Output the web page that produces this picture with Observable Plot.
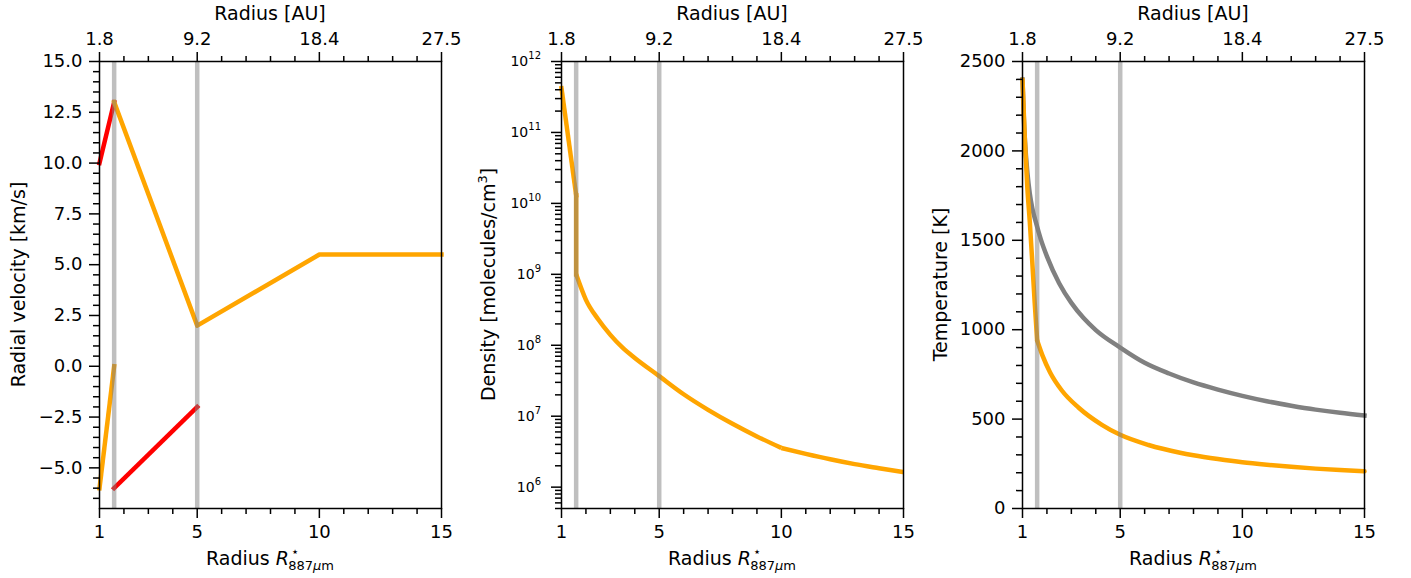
<!DOCTYPE html>
<html>
<head>
<meta charset="utf-8">
<script src="https://cdn.jsdelivr.net/npm/d3@7"></script>
<script src="https://cdn.jsdelivr.net/npm/@observablehq/plot@0.6"></script>
<style>
  html, body { margin: 0; padding: 0; background: #ffffff; }
  #chart { position: relative; width: 1411px; height: 578px; background: #ffffff; font-family: "DejaVu Sans", sans-serif; }
  #chart svg { position: absolute; top: 0; }
</style>
</head>
<body>
<div id="chart"></div>
<script>
// ---------- shared axis values ----------
const xMajor = [1, 5, 10, 15];
const xMinor = [2, 3, 4, 6, 7, 8, 9, 11, 12, 13, 14];
const auLabels = ["1.8", "9.2", "18.4", "27.5"];
const boundaries = [1.6, 5];

// ---------- panel 1: radial velocity ----------
const velTicks = [-5, -2.5, 0, 2.5, 5, 7.5, 10, 12.5, 15];
const velRedUpperR = [1, 1.6];
const velRedUpperV = [10, 13];
const velOrangeUpperR = [1.6, 5, 10, 15];
const velOrangeUpperV = [13, 2, 5.5, 5.5];
const velOrangeLowerR = [1, 1.6];
const velOrangeLowerV = [-6, 0];
const velRedLowerR = [1.6, 5];
const velRedLowerV = [-6, -2];

// ---------- panel 2: density (segments: inner, jump, middle, outer) ----------
const densTicks = [1e6, 1e7, 1e8, 1e9, 1e10, 1e11, 1e12];
const densSeg = ["a", "a", "b", "b", "c", "c", "c", "c", "c", "c", "c", "c", "c", "c", "c", "c", "c", "d", "d", "d", "d", "d", "d"];
const densR = [1, 1.6, 1.6, 1.6, 1.6, 2, 2.5, 3, 3.5, 4, 5, 6, 7, 8, 9, 10, 10, 10, 11, 12, 13, 14, 15];
const densN = [4.2e11, 1.3e10, 1.3e10, 1.0e9, 1.0e9, 4.37e8, 2.32e8, 1.40e8, 9.23e7, 6.61e7, 3.67e7, 2.04e7, 1.23e7, 7.82e6, 5.19e6, 3.57e6, 3.57e6, 3.57e6, 2.95e6, 2.47e6, 2.11e6, 1.85e6, 1.63e6];

// ---------- panel 3: temperature ----------
const tempTicks = [0, 500, 1000, 1500, 2000, 2500];
const tempGreyR = [1, 1.05, 1.1, 1.2, 1.3, 1.4, 1.55, 1.75, 2, 2.5, 3, 3.5, 4, 5, 6, 7, 8, 9, 10, 11, 12, 13, 14, 15];
const tempGreyT = [2400, 2200, 2060, 1880, 1760, 1680, 1600, 1505, 1410, 1260, 1150, 1065, 998, 900, 815, 755, 705, 665, 630, 600, 575, 553, 535, 520];
const tempOrangeSeg = ["a", "a", "a", "a", "a", "a", "a", "b", "b", "b", "b", "b", "b", "b", "b", "b", "b", "b", "b", "b", "b", "b", "b", "b", "b", "b"];
const tempOrangeR = [1, 1.1, 1.2, 1.3, 1.4, 1.5, 1.6, 1.6, 1.82, 2.13, 2.61, 3.29, 4.25, 5, 6.16, 7.45, 8, 9, 10, 11, 12, 13, 14, 15];
const tempOrangeT = [2400, 2050, 1790, 1600, 1380, 1150, 940, 940, 855, 761, 660, 565, 468, 412, 355, 312, 298, 277, 259, 245, 233, 223, 215, 208];

const ORANGE = "#ffa500", RED = "#ff0000", GREY = "#808080";
const toPts = (xs, ys, zs) => xs.map((x, i) => ({x, y: ys[i], z: zs ? zs[i] : "a"}));

const FRAME_W = 342, ML = 99, MR = 30, MT = 61, MB = 70, H = 578;
const SVG_W = ML + FRAME_W + MR;
const LW = 4.5;

function panel({frameLeft, yScale, yMajor, yMinor, yFormat, yFont, dataMarks, ylabel, ylabelX, after}) {
  const svg = Plot.plot({
    width: SVG_W, height: H,
    marginLeft: ML, marginRight: MR, marginTop: MT, marginBottom: MB,
    x: {domain: [1, 15]},
    y: yScale,
    style: {background: "transparent", overflow: "visible", fontFamily: "DejaVu Sans", color: "black"},
    marks: [
      ...dataMarks,
      Plot.ruleX(boundaries, {stroke: GREY, strokeOpacity: 0.5, strokeWidth: 4.5}),
      Plot.frame({stroke: "black", strokeWidth: 1.5}),
      Plot.axisX(xMajor, {anchor: "bottom", tickSize: 10, tickPadding: 7, fontSize: 18, strokeWidth: 1.5, label: null, tickFormat: d => String(d)}),
      Plot.axisX(xMinor, {anchor: "bottom", tickSize: 6, strokeWidth: 1.5, label: null, tickFormat: () => ""}),
      Plot.axisX(xMajor, {anchor: "top", tickSize: 10, tickPadding: 7, fontSize: 18, strokeWidth: 1.5, label: null, tickFormat: d => auLabels[xMajor.indexOf(d)]}),
      Plot.axisX(xMinor, {anchor: "top", tickSize: 6, strokeWidth: 1.5, label: null, tickFormat: () => ""}),
      Plot.axisY(yMajor, {anchor: "left", tickSize: 10, tickPadding: 7, fontSize: yFont, strokeWidth: 1.5, label: null, tickFormat: yFormat}),
      Plot.axisY(yMinor, {anchor: "left", tickSize: 6, strokeWidth: 1.5, label: null, tickFormat: () => ""})
    ]
  });
  svg.style.left = (frameLeft - ML) + "px";
  const s = d3.select(svg);
  const cx = ML + FRAME_W / 2;
  s.append("text").attr("x", cx).attr("y", 20).attr("text-anchor", "middle")
    .attr("font-family", "DejaVu Sans").attr("font-size", 19).attr("fill", "black").text("Radius [AU]");
  const t = s.append("text").attr("x", cx).attr("y", 565).attr("text-anchor", "middle")
    .attr("font-family", "DejaVu Sans").attr("font-size", 19).attr("fill", "black");
  t.append("tspan").text("Radius ");
  t.append("tspan").attr("font-style", "italic").text("R");
  t.append("tspan").attr("font-size", 13).attr("dx", 2).attr("dy", -9).text("⋆");
  t.append("tspan").attr("font-size", 13).attr("dx", -11).attr("dy", 14).text("887");
  t.append("tspan").attr("font-size", 13).attr("font-style", "italic").text("μ");
  t.append("tspan").attr("font-size", 13).text("m");
  const yl = s.append("text").attr("transform", `translate(${ylabelX - (frameLeft - ML)},${MT + (H - MT - MB) / 2}) rotate(-90)`)
    .attr("text-anchor", "middle").attr("font-family", "DejaVu Sans").attr("font-size", 19).attr("fill", "black");
  ylabel(yl);
  if (after) after(svg, s);
  document.getElementById("chart").appendChild(svg);
}

// panel 1
panel({
  frameLeft: 99,
  yScale: {domain: [-7, 15]},
  yMajor: velTicks,
  yMinor: d3.range(-6.5, 15, 0.5).filter(v => !velTicks.includes(v)),
  yFormat: d => d.toFixed(1).replace("-", "−"),
  yFont: 18,
  dataMarks: [
    Plot.line(toPts(velRedUpperR, velRedUpperV), {x: "x", y: "y", stroke: RED, strokeWidth: LW, strokeLinecap: "square"}),
    Plot.line(toPts(velOrangeUpperR, velOrangeUpperV), {x: "x", y: "y", stroke: ORANGE, strokeWidth: LW, strokeLinecap: "square", strokeLinejoin: "round"}),
    Plot.line(toPts(velOrangeLowerR, velOrangeLowerV), {x: "x", y: "y", stroke: ORANGE, strokeWidth: LW, strokeLinecap: "square"}),
    Plot.line(toPts(velRedLowerR, velRedLowerV), {x: "x", y: "y", stroke: RED, strokeWidth: LW, strokeLinecap: "square"})
  ],
  ylabel: el => el.text("Radial velocity [km/s]"),
  ylabelX: 25
});

// panel 2
const densMinor = [];
[5, 6, 7, 8, 9, 10, 11].forEach(k => [2, 3, 4, 5, 6, 7, 8, 9].forEach(m => { const v = m * Math.pow(10, k); if (v >= 5e5 && v < 1e12) densMinor.push(v); }));
const densPts = toPts(densR, densN, densSeg);
panel({
  frameLeft: 561,
  yScale: {type: "log", domain: [5e5, 1e12]},
  yMajor: densTicks,
  yMinor: densMinor,
  yFormat: () => "",
  yFont: 14,
  dataMarks: [
    Plot.line(densPts.filter(d => d.z === "a" || d.z === "b"), {x: "x", y: "y", z: "z", stroke: ORANGE, strokeWidth: LW, strokeLinecap: "square", strokeLinejoin: "round"}),
    Plot.line(densPts.filter(d => d.z === "c" || d.z === "d"), {x: "x", y: "y", z: "z", stroke: ORANGE, strokeWidth: LW, strokeLinecap: "butt", curve: "monotone-x"})
  ],
  ylabel: el => { el.append("tspan").text("Density [molecules/cm"); el.append("tspan").attr("font-size", 13).attr("dy", -8).text("3"); el.append("tspan").attr("dy", 8).text("]"); },
  ylabelX: 495,
  after: (svg, s) => {
    const y = svg.scale("y");
    densTicks.forEach(v => {
      const tx = s.append("text").attr("x", ML - 20).attr("y", y.apply(v) + 5).attr("text-anchor", "end")
        .attr("font-family", "DejaVu Sans").attr("font-size", 14).attr("fill", "black");
      tx.append("tspan").text("10");
      tx.append("tspan").attr("font-size", 10).attr("dy", -7).text(String(Math.round(Math.log10(v))));
    });
  }
});

// panel 3
panel({
  frameLeft: 1022,
  yScale: {domain: [0, 2500]},
  yMajor: tempTicks,
  yMinor: d3.range(100, 2500, 100).filter(v => !tempTicks.includes(v)),
  yFormat: d => String(d),
  yFont: 18,
  dataMarks: [
    Plot.line(toPts(tempGreyR, tempGreyT), {x: "x", y: "y", stroke: GREY, strokeWidth: LW, strokeLinecap: "square", curve: "monotone-x"}),
    Plot.line(toPts(tempOrangeR, tempOrangeT, tempOrangeSeg), {x: "x", y: "y", z: "z", stroke: ORANGE, strokeWidth: LW, strokeLinecap: "round", curve: "monotone-x"})
  ],
  ylabel: el => el.text("Temperature [K]"),
  ylabelX: 947
});
</script>
</body>
</html>
